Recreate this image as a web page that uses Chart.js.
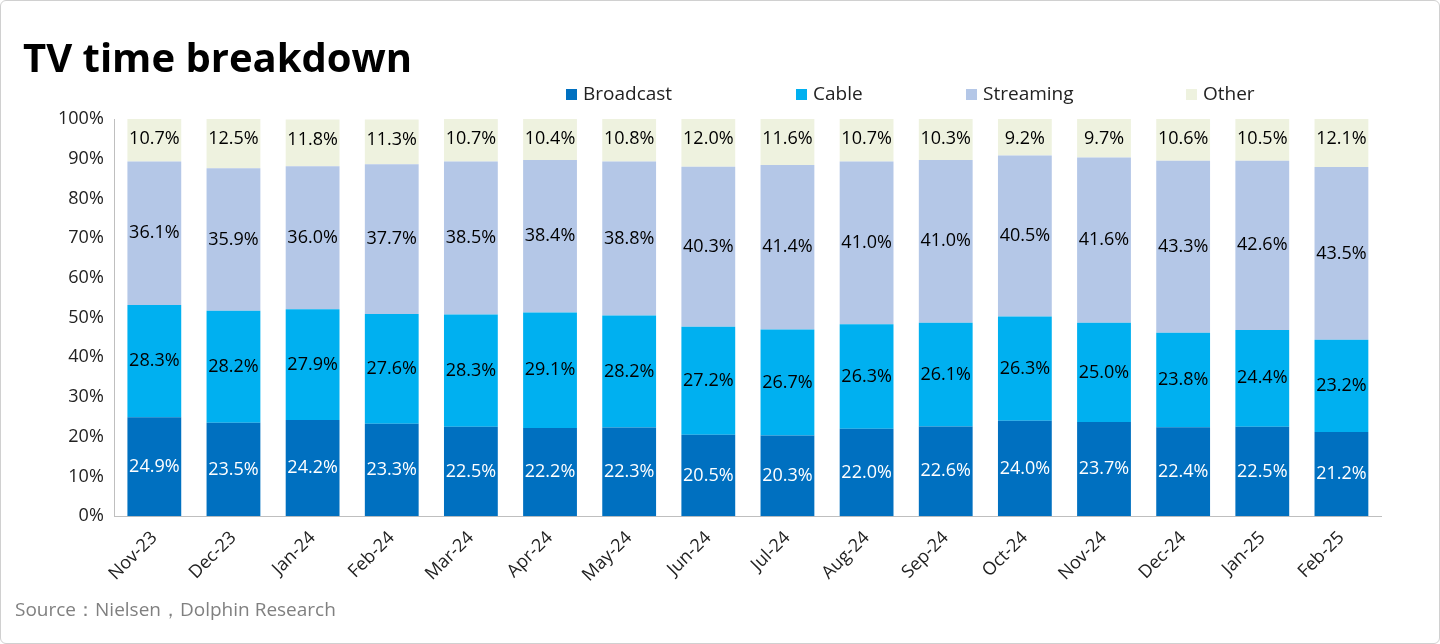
<!DOCTYPE html>
<html>
<head>
<meta charset="utf-8">
<script src="https://cdn.jsdelivr.net/npm/chart.js@4"></script>
<style>
body{margin:0;background:#fff;font-family:"Open Sans","Noto Sans",sans-serif;}
#wrap{position:relative;width:1438px;height:642px;border:1px solid #d0d0d0;border-radius:6px;overflow:hidden;}
#title{position:absolute;left:22px;top:28px;font-size:40px;font-weight:bold;color:#000;}
#legend{position:absolute;top:79px;left:0;font-size:19px;color:#222;}
#legend span{position:absolute;white-space:nowrap;}
#legend i{display:inline-block;width:11px;height:11px;margin-right:6px;}
#source{position:absolute;left:14px;top:595px;font-size:19px;color:#808080;}
canvas{position:absolute;left:0;top:0;}
</style>
</head>
<body>
<div id="wrap">
<canvas id="myChart" width="1438" height="642"></canvas>
<div id="title">TV time breakdown</div>
<div id="legend"></div>
<div id="source">Source：Nielsen，Dolphin Research</div>
</div>
<script>
var months = ['Nov-23','Dec-23','Jan-24','Feb-24','Mar-24','Apr-24','May-24','Jun-24','Jul-24','Aug-24','Sep-24','Oct-24','Nov-24','Dec-24','Jan-25','Feb-25'];
var broadcast = [24.9,23.5,24.2,23.3,22.5,22.2,22.3,20.5,20.3,22.0,22.6,24.0,23.7,22.4,22.5,21.2];
var cable = [28.3,28.2,27.9,27.6,28.3,29.1,28.2,27.2,26.7,26.3,26.1,26.3,25.0,23.8,24.4,23.2];
var streaming = [36.1,35.9,36.0,37.7,38.5,38.4,38.8,40.3,41.4,41.0,41.0,40.5,41.6,43.3,42.6,43.5];
var other = [10.7,12.5,11.8,11.3,10.7,10.4,10.8,12.0,11.6,10.7,10.3,9.2,9.7,10.6,10.5,12.1];

var names = ['Broadcast','Cable','Streaming','Other'];
var colors = ['#0070c0','#00b0f0','#b4c7e7','#eef2df'];
var labelColors = ['#fff','#000','#000','#000'];
var legendX = [565,795,965,1185];

// legend
var leg = document.getElementById('legend');
names.forEach(function (n, i) {
	var s = document.createElement('span');
	s.style.left = legendX[i] + 'px';
	s.innerHTML = '<i style="background:' + colors[i] + '"></i>' + n;
	leg.appendChild(s);
});

// value labels inside segments
var segLabels = {
	id: 'segLabels',
	afterDatasetsDraw: function (chart) {
		var ctx = chart.ctx;
		ctx.save();
		ctx.font = '18px "Open Sans", sans-serif';
		ctx.textAlign = 'center';
		ctx.textBaseline = 'middle';
		chart.data.datasets.forEach(function (ds, di) {
			var meta = chart.getDatasetMeta(di);
			ctx.fillStyle = labelColors[di];
			meta.data.forEach(function (bar, i) {
				var y = (bar.y + bar.base) / 2;
				if (di == 3) y = bar.y + 20;
				ctx.fillText(ds.data[i].toFixed(1) + '%', bar.x, y);
			});
		});
		ctx.restore();
	}
};

var flightChart = new Chart(document.getElementById('myChart'), {
	type: 'bar',
	data: {
		labels: months,
		datasets: [broadcast, cable, streaming, other].map(function (d, i) {
			return { label: names[i], data: d, backgroundColor: colors[i], barPercentage: 0.68, categoryPercentage: 1 };
		})
	},
	options: {
		responsive: false,
		animation: false,
		layout: { padding: { top: 118, left: 54, right: 58, bottom: 54 } },
		plugins: { legend: { display: false }, tooltip: { enabled: false } },
		scales: {
			x: {
				stacked: true,
				grid: { display: false },
				border: { color: '#bfbfbf' },
				ticks: { color: '#222', font: { size: 18, family: '"Open Sans", sans-serif' }, maxRotation: 45, minRotation: 45 }
			},
			y: {
				stacked: true,
				min: 0, max: 100,
				grid: { display: false },
				border: { color: '#bfbfbf' },
				ticks: { stepSize: 10, color: '#222', font: { size: 18, family: '"Open Sans", sans-serif' }, callback: function (v) { return v + '%'; } }
			}
		}
	},
	plugins: [segLabels]
});
</script>
</body>
</html>
